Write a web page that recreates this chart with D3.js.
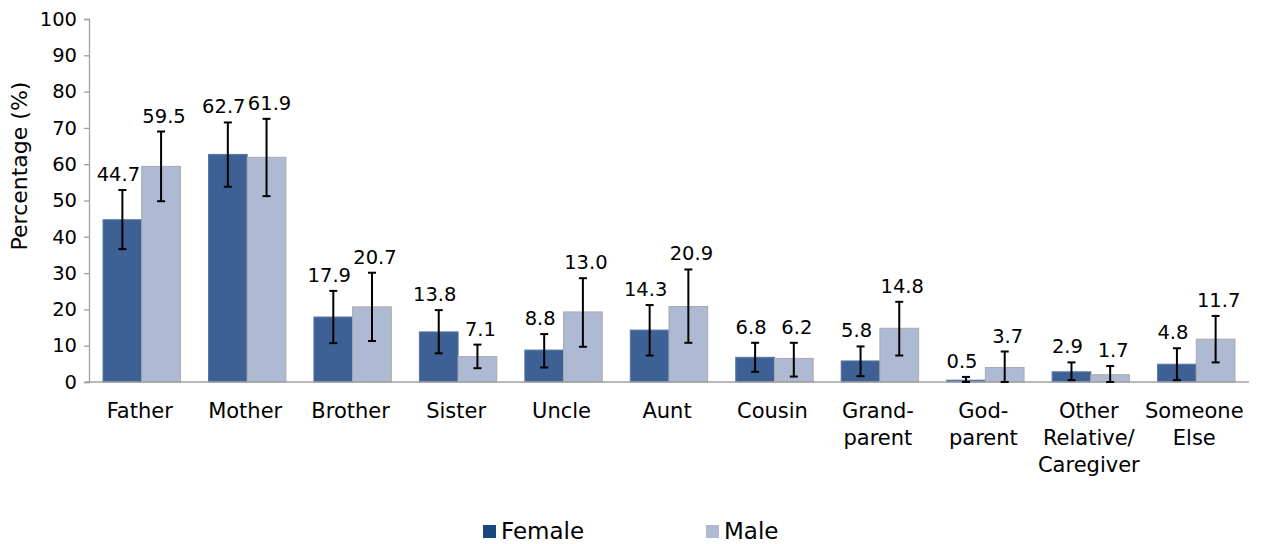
<!DOCTYPE html>
<html>
<head>
<meta charset="utf-8">
<script src="https://cdn.jsdelivr.net/npm/d3@7"></script>
<style>
  html, body { margin: 0; padding: 0; background: #fff; }
  svg { display: block; }
  text { font-family: "DejaVu Sans", Lato, sans-serif; fill: #000; }
</style>
</head>
<body>
<svg id="chart" width="1262" height="544"></svg>
<script>
// ---- data ----
const categories = [["Father"], ["Mother"], ["Brother"], ["Sister"], ["Uncle"], ["Aunt"], ["Cousin"],
  ["Grand-", "parent"], ["God-", "parent"], ["Other", "Relative/", "Caregiver"], ["Someone", "Else"]];
const seriesNames = ["Female", "Male"];
const femaleValues = [44.7, 62.7, 17.9, 13.8, 8.8, 14.3, 6.8, 5.8, 0.5, 2.8, 4.9];
const maleValues   = [59.4, 61.9, 20.7, 7.0, 19.3, 20.8, 6.5, 14.8, 4.0, 2.0, 11.8];
const femaleLabels = ["44.7", "62.7", "17.9", "13.8", "8.8", "14.3", "6.8", "5.8", "0.5", "2.9", "4.8"];
const maleLabels   = ["59.5", "61.9", "20.7", "7.1", "13.0", "20.9", "6.2", "14.8", "3.7", "1.7", "11.7"];
const femaleErrLow  = [36.6, 53.8, 10.7, 7.9, 4.0, 7.3, 2.8, 1.6, 0.0, 0.5, 0.5];
const femaleErrHigh = [52.9, 71.5, 25.1, 19.8, 13.2, 21.2, 10.8, 9.8, 1.4, 5.4, 9.3];
const maleErrLow    = [49.8, 51.2, 11.3, 3.8, 9.7, 10.8, 1.5, 7.3, 0.0, 0.0, 5.4];
const maleErrHigh   = [69.0, 72.5, 30.1, 10.3, 28.6, 31.0, 10.8, 22.1, 8.4, 4.4, 18.2];
const yTicks = [0, 10, 20, 30, 40, 50, 60, 70, 80, 90, 100];

const colors = { Female: "#3e6195", Male: "#aebad4" };
const legendColors = { Female: "#1b477f", Male: "#aebad4" };

// ---- layout ----
const svg = d3.select("#chart");
const plotLeft = 89, plotRight = 1249, plotTop = 19, plotBottom = 382;

const x = d3.scaleBand().domain(d3.range(categories.length)).range([plotLeft, plotRight]).paddingInner(0).paddingOuter(0);
const y = d3.scaleLinear().domain([0, 100]).range([plotBottom, plotTop]);
const barW = 38.7;

const series = [
  { name: "Female", values: femaleValues, labels: femaleLabels, lo: femaleErrLow, hi: femaleErrHigh, off: -barW, lblShift: -4 },
  { name: "Male", values: maleValues, labels: maleLabels, lo: maleErrLow, hi: maleErrHigh, off: 0, lblShift: 3 }
];

// y axis
const yAxis = d3.axisLeft(y).tickValues(yTicks).tickSize(5).tickPadding(7).tickFormat(d3.format("d"));
const gy = svg.append("g").attr("transform", `translate(${plotLeft},0)`).call(yAxis);
gy.select(".domain").attr("stroke", "#a0a0a0").attr("stroke-width", 1.3);
gy.selectAll(".tick line").attr("stroke", "#a0a0a0").attr("stroke-width", 1.3);
gy.selectAll(".tick text").style("font-size", "19.5px").attr("fill", "#000")
  .style("font-family", "\"DejaVu Sans\", sans-serif");

// y title
svg.append("text")
  .attr("transform", `translate(27,166) rotate(-90)`)
  .attr("text-anchor", "middle")
  .style("font-size", "22px")
  .text("Percentage (%)");

// bars
series.forEach(s => {
  const g = svg.append("g");
  g.selectAll("rect").data(s.values).join("rect")
    .attr("x", (d, i) => x(i) + x.bandwidth() / 2 + s.off)
    .attr("y", d => y(d))
    .attr("width", barW)
    .attr("height", d => y(0) - y(d))
    .attr("fill", colors[s.name])
    .attr("stroke", s.name === "Male" ? "#a9a9a9" : "#5776a3")
    .attr("stroke-width", 1);
});

// x axis line
svg.append("line").attr("x1", plotLeft - 4).attr("x2", plotRight).attr("y1", y(0)).attr("y2", y(0))
  .attr("stroke", "#a0a0a0").attr("stroke-width", 1.3);

// error bars + labels
series.forEach(s => {
  const g = svg.append("g");
  s.values.forEach((v, i) => {
    const cx = x(i) + x.bandwidth() / 2 + s.off + barW / 2;
    const yl = y(s.lo[i]), yh = y(s.hi[i]);
    g.append("line").attr("x1", cx).attr("x2", cx).attr("y1", yl).attr("y2", yh).attr("stroke", "#000").attr("stroke-width", 2);
    g.append("line").attr("x1", cx - 4).attr("x2", cx + 4).attr("y1", yh).attr("y2", yh).attr("stroke", "#000").attr("stroke-width", 2);
    g.append("line").attr("x1", cx - 4).attr("x2", cx + 4).attr("y1", yl).attr("y2", yl).attr("stroke", "#000").attr("stroke-width", 2);
    g.append("text").attr("x", cx + s.lblShift).attr("y", yh - 9).attr("text-anchor", "middle")
      .style("font-size", "19.5px").text(s.labels[i]);
  });
});

// category labels
categories.forEach((lines, i) => {
  const t = svg.append("text").attr("text-anchor", "middle").style("font-size", "21px");
  lines.forEach((ln, j) => {
    t.append("tspan").attr("x", x(i) + x.bandwidth() / 2 - 2).attr("y", 418 + j * 27).text(ln);
  });
});

// legend
const legendX = [483, 706];
seriesNames.forEach((n, i) => {
  svg.append("rect").attr("x", legendX[i]).attr("y", 525).attr("width", 13).attr("height", 13).attr("fill", legendColors[n]);
  svg.append("text").attr("x", legendX[i] + 18).attr("y", 539).style("font-size", "23px").text(n);
});
</script>
</body>
</html>
